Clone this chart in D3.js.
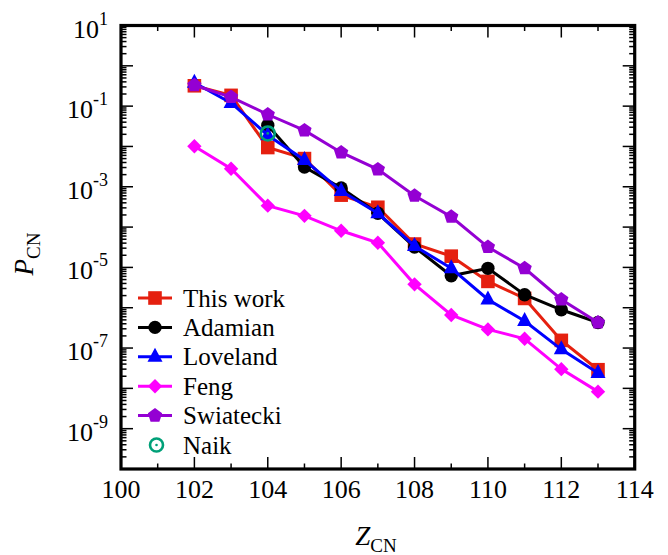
<!DOCTYPE html>
<html lang="en">

<head>
  <meta charset="UTF-8">
  <title>P_CN vs Z_CN</title>
  <script src="https://cdn.jsdelivr.net/npm/d3@7/dist/d3.min.js"></script>
  <style>
    body { margin: 0; background: #fff; }
    svg { display: block; }
    svg text { font-family: 'Liberation Serif', 'DejaVu Serif', 'Times New Roman', Times, serif; }
  </style>
</head>

<body>
  <div id="svg-root"></div>
  <script>
    // data
    const zAll = [102, 103, 104, 105, 106, 107, 108, 109, 110, 111, 112, 113];
    const zAdamian = [104, 105, 106, 107, 108, 109, 110, 111, 112, 113];
    const thisWork = [0.32, 0.185, 0.0094, 0.005, 6.2e-4, 3.1e-4, 3.8e-5, 1.9e-5, 4.5e-6, 1.7e-6, 1.55e-7, 2.9e-8];
    const adamian = [0.0335, 3.1e-3, 9.3e-4, 2.2e-4, 3.2e-5, 6.2e-6, 9.5e-6, 2.1e-6, 8.9e-7, 4.3e-7];
    const loveland = [0.38, 0.12, 0.019, 4.6e-3, 7.8e-4, 2.2e-4, 3.4e-5, 9.5e-6, 1.6e-6, 4.7e-7, 9.3e-8, 2.4e-8];
    const feng = [0.0101, 2.8e-3, 3.4e-4, 1.9e-4, 8.1e-5, 4.1e-5, 3.8e-6, 6.6e-7, 2.9e-7, 1.7e-7, 3.0e-8, 8.3e-9];
    const swiatecki = [0.33, 0.168, 0.062, 0.025, 7.1e-3, 2.7e-3, 6.0e-4, 1.8e-4, 3.2e-5, 9.5e-6, 1.6e-6, 4.3e-7];
    const zNaik = [104];
    const naik = [0.021];

    const xTicks = [100, 102, 104, 106, 108, 110, 112, 114];
    const yLabelExp = [1, -1, -3, -5, -7, -9];

    const width = 668, height = 555;
    const plot = { left: 121, right: 634.7, top: 25.5, bottom: 469 };
    const serif = "'Liberation Serif', 'DejaVu Serif', 'Times New Roman', Times, serif";

    const svg = d3.select('#svg-root').append('svg')
      .attr('width', width)
      .attr('height', height)
      .attr('font-family', serif);

    const x = d3.scaleLinear().domain([100, 114]).range([plot.left, plot.right]);
    const y = d3.scaleLog().domain([1e-10, 10]).range([plot.bottom, plot.top]);

    // ticks: majors on even Z, minors on odd; decades with 2..9 minors
    const xMinor = d3.range(101, 114, 2);
    const yMajor = d3.range(-10, 2).map(e => Math.pow(10, e));
    const yMinor = [];
    d3.range(-10, 1).forEach(e => {
      for (let k = 2; k <= 9; k++) yMinor.push(k * Math.pow(10, e));
    });

    const tickG = svg.append('g').attr('stroke', '#000').attr('stroke-width', 1.5);
    const bigT = 12, smallT = 5.5;
    // bottom + top
    xTicks.forEach(v => {
      tickG.append('line').attr('x1', x(v)).attr('x2', x(v)).attr('y1', plot.bottom).attr('y2', plot.bottom - bigT);
      tickG.append('line').attr('x1', x(v)).attr('x2', x(v)).attr('y1', plot.top).attr('y2', plot.top + bigT);
    });
    xMinor.forEach(v => {
      tickG.append('line').attr('x1', x(v)).attr('x2', x(v)).attr('y1', plot.bottom).attr('y2', plot.bottom - smallT);
      tickG.append('line').attr('x1', x(v)).attr('x2', x(v)).attr('y1', plot.top).attr('y2', plot.top + smallT);
    });
    // left + right
    yMajor.forEach(v => {
      tickG.append('line').attr('y1', y(v)).attr('y2', y(v)).attr('x1', plot.left).attr('x2', plot.left + bigT);
      tickG.append('line').attr('y1', y(v)).attr('y2', y(v)).attr('x1', plot.right).attr('x2', plot.right - bigT);
    });
    yMinor.forEach(v => {
      tickG.append('line').attr('y1', y(v)).attr('y2', y(v)).attr('x1', plot.left).attr('x2', plot.left + smallT);
      tickG.append('line').attr('y1', y(v)).attr('y2', y(v)).attr('x1', plot.right).attr('x2', plot.right - smallT);
    });

    // x tick labels
    svg.append('g').selectAll('text')
      .data(xTicks)
      .enter()
      .append('text')
      .attr('x', d => x(d))
      .attr('y', 498)
      .attr('text-anchor', 'middle')
      .attr('font-size', '26px')
      .attr('font-family', serif)
      .text(d => d);

    // y tick labels 10^n
    const yl = svg.append('g').selectAll('text')
      .data(yLabelExp)
      .enter()
      .append('text')
      .attr('x', 108)
      .attr('y', d => y(Math.pow(10, d)) + 12)
      .attr('text-anchor', 'end')
      .attr('font-size', '26px')
      .attr('font-family', serif);
    yl.append('tspan').text('10');
    yl.append('tspan').attr('dy', -13).attr('font-size', '18px').text(d => d);

    // frame
    svg.append('rect')
      .attr('x', plot.left)
      .attr('y', plot.top)
      .attr('width', plot.right - plot.left)
      .attr('height', plot.bottom - plot.top)
      .attr('fill', 'none')
      .attr('stroke', '#000')
      .attr('stroke-width', 3.2);

    // axis titles
    const xt = svg.append('text')
      .attr('x', 376)
      .attr('y', 545)
      .attr('text-anchor', 'middle')
      .attr('font-size', '27px')
      .attr('font-family', serif);
    xt.append('tspan').attr('font-style', 'italic').text('Z');
    xt.append('tspan').attr('dy', 7).attr('font-size', '19px').text('CN');

    const yt = svg.append('text')
      .attr('transform', 'translate(33,254) rotate(-90)')
      .attr('text-anchor', 'middle')
      .attr('font-size', '27px')
      .attr('font-family', serif);
    yt.append('tspan').attr('font-style', 'italic').text('P');
    yt.append('tspan').attr('dy', 7).attr('font-size', '19px').text('CN');

    // marker shapes
    const pentagon = r => {
      const pts = d3.range(5).map(i => {
        const a = -Math.PI / 2 + i * 2 * Math.PI / 5;
        return [r * Math.cos(a), r * Math.sin(a)];
      });
      return 'M' + pts.map(p => p.join(',')).join('L') + 'Z';
    };
    const shapes = {
      square: () => 'M-6.8,-6.8H6.8V6.8H-6.8Z',
      circle: () => d3.symbol(d3.symbolCircle, 140)(),
      triangle: () => 'M0,-9L7.5,5L-7.5,5Z',
      diamond: () => 'M0,-7.2L7.2,0L0,7.2L-7.2,0Z',
      pentagon: () => pentagon(7.5)
    };

    const series = [
      { name: 'This work', z: zAll, v: thisWork, color: '#e5200f', shape: 'square' },
      { name: 'Adamian', z: zAdamian, v: adamian, color: '#000000', shape: 'circle' },
      { name: 'Loveland', z: zAll, v: loveland, color: '#0000ff', shape: 'triangle' },
      { name: 'Feng', z: zAll, v: feng, color: '#ff00ff', shape: 'diamond' },
      { name: 'Swiatecki', z: zAll, v: swiatecki, color: '#9400d3', shape: 'pentagon' }
    ];

    const line = d3.line().x(d => x(d[0])).y(d => y(d[1]));

    series.forEach(s => {
      const pts = s.z.map((z, i) => [z, s.v[i]]);
      const g = svg.append('g');
      g.append('path')
        .attr('d', line(pts))
        .attr('fill', 'none')
        .attr('stroke', s.color)
        .attr('stroke-width', 3);
      g.selectAll('path.m')
        .data(pts)
        .enter()
        .append('path')
        .attr('class', 'm')
        .attr('transform', d => 'translate(' + x(d[0]) + ',' + y(d[1]) + ')')
        .attr('d', shapes[s.shape]())
        .attr('fill', s.color);
    });

    // Naik: open circle with a dot
    const naikColor = '#00a078';
    const ng = svg.append('g');
    zNaik.forEach((z, i) => {
      ng.append('circle').attr('cx', x(z)).attr('cy', y(naik[i])).attr('r', 7)
        .attr('fill', 'none').attr('stroke', naikColor).attr('stroke-width', 2.6);
      ng.append('circle').attr('cx', x(z)).attr('cy', y(naik[i])).attr('r', 1.4)
        .attr('fill', naikColor);
    });

    // legend
    const leg = svg.append('g');
    const rowY = i => 298 + i * 29.4;
    series.forEach((s, i) => {
      leg.append('line')
        .attr('x1', 138).attr('x2', 172)
        .attr('y1', rowY(i)).attr('y2', rowY(i))
        .attr('stroke', s.color).attr('stroke-width', 3);
      leg.append('path')
        .attr('transform', 'translate(155,' + rowY(i) + ')')
        .attr('d', shapes[s.shape]())
        .attr('fill', s.color);
      leg.append('text')
        .attr('x', 183).attr('y', rowY(i) + 8.5)
        .attr('font-size', '25px')
        .attr('font-family', serif)
        .text(s.name);
    });
    leg.append('circle').attr('cx', 156.5).attr('cy', rowY(5)).attr('r', 6.5)
      .attr('fill', 'none').attr('stroke', naikColor).attr('stroke-width', 2.6);
    leg.append('circle').attr('cx', 156.5).attr('cy', rowY(5)).attr('r', 1.3)
      .attr('fill', naikColor);
    leg.append('text')
      .attr('x', 183).attr('y', rowY(5) + 8.5)
      .attr('font-size', '25px')
      .attr('font-family', serif)
      .text('Naik');
  </script>
</body>

</html>
